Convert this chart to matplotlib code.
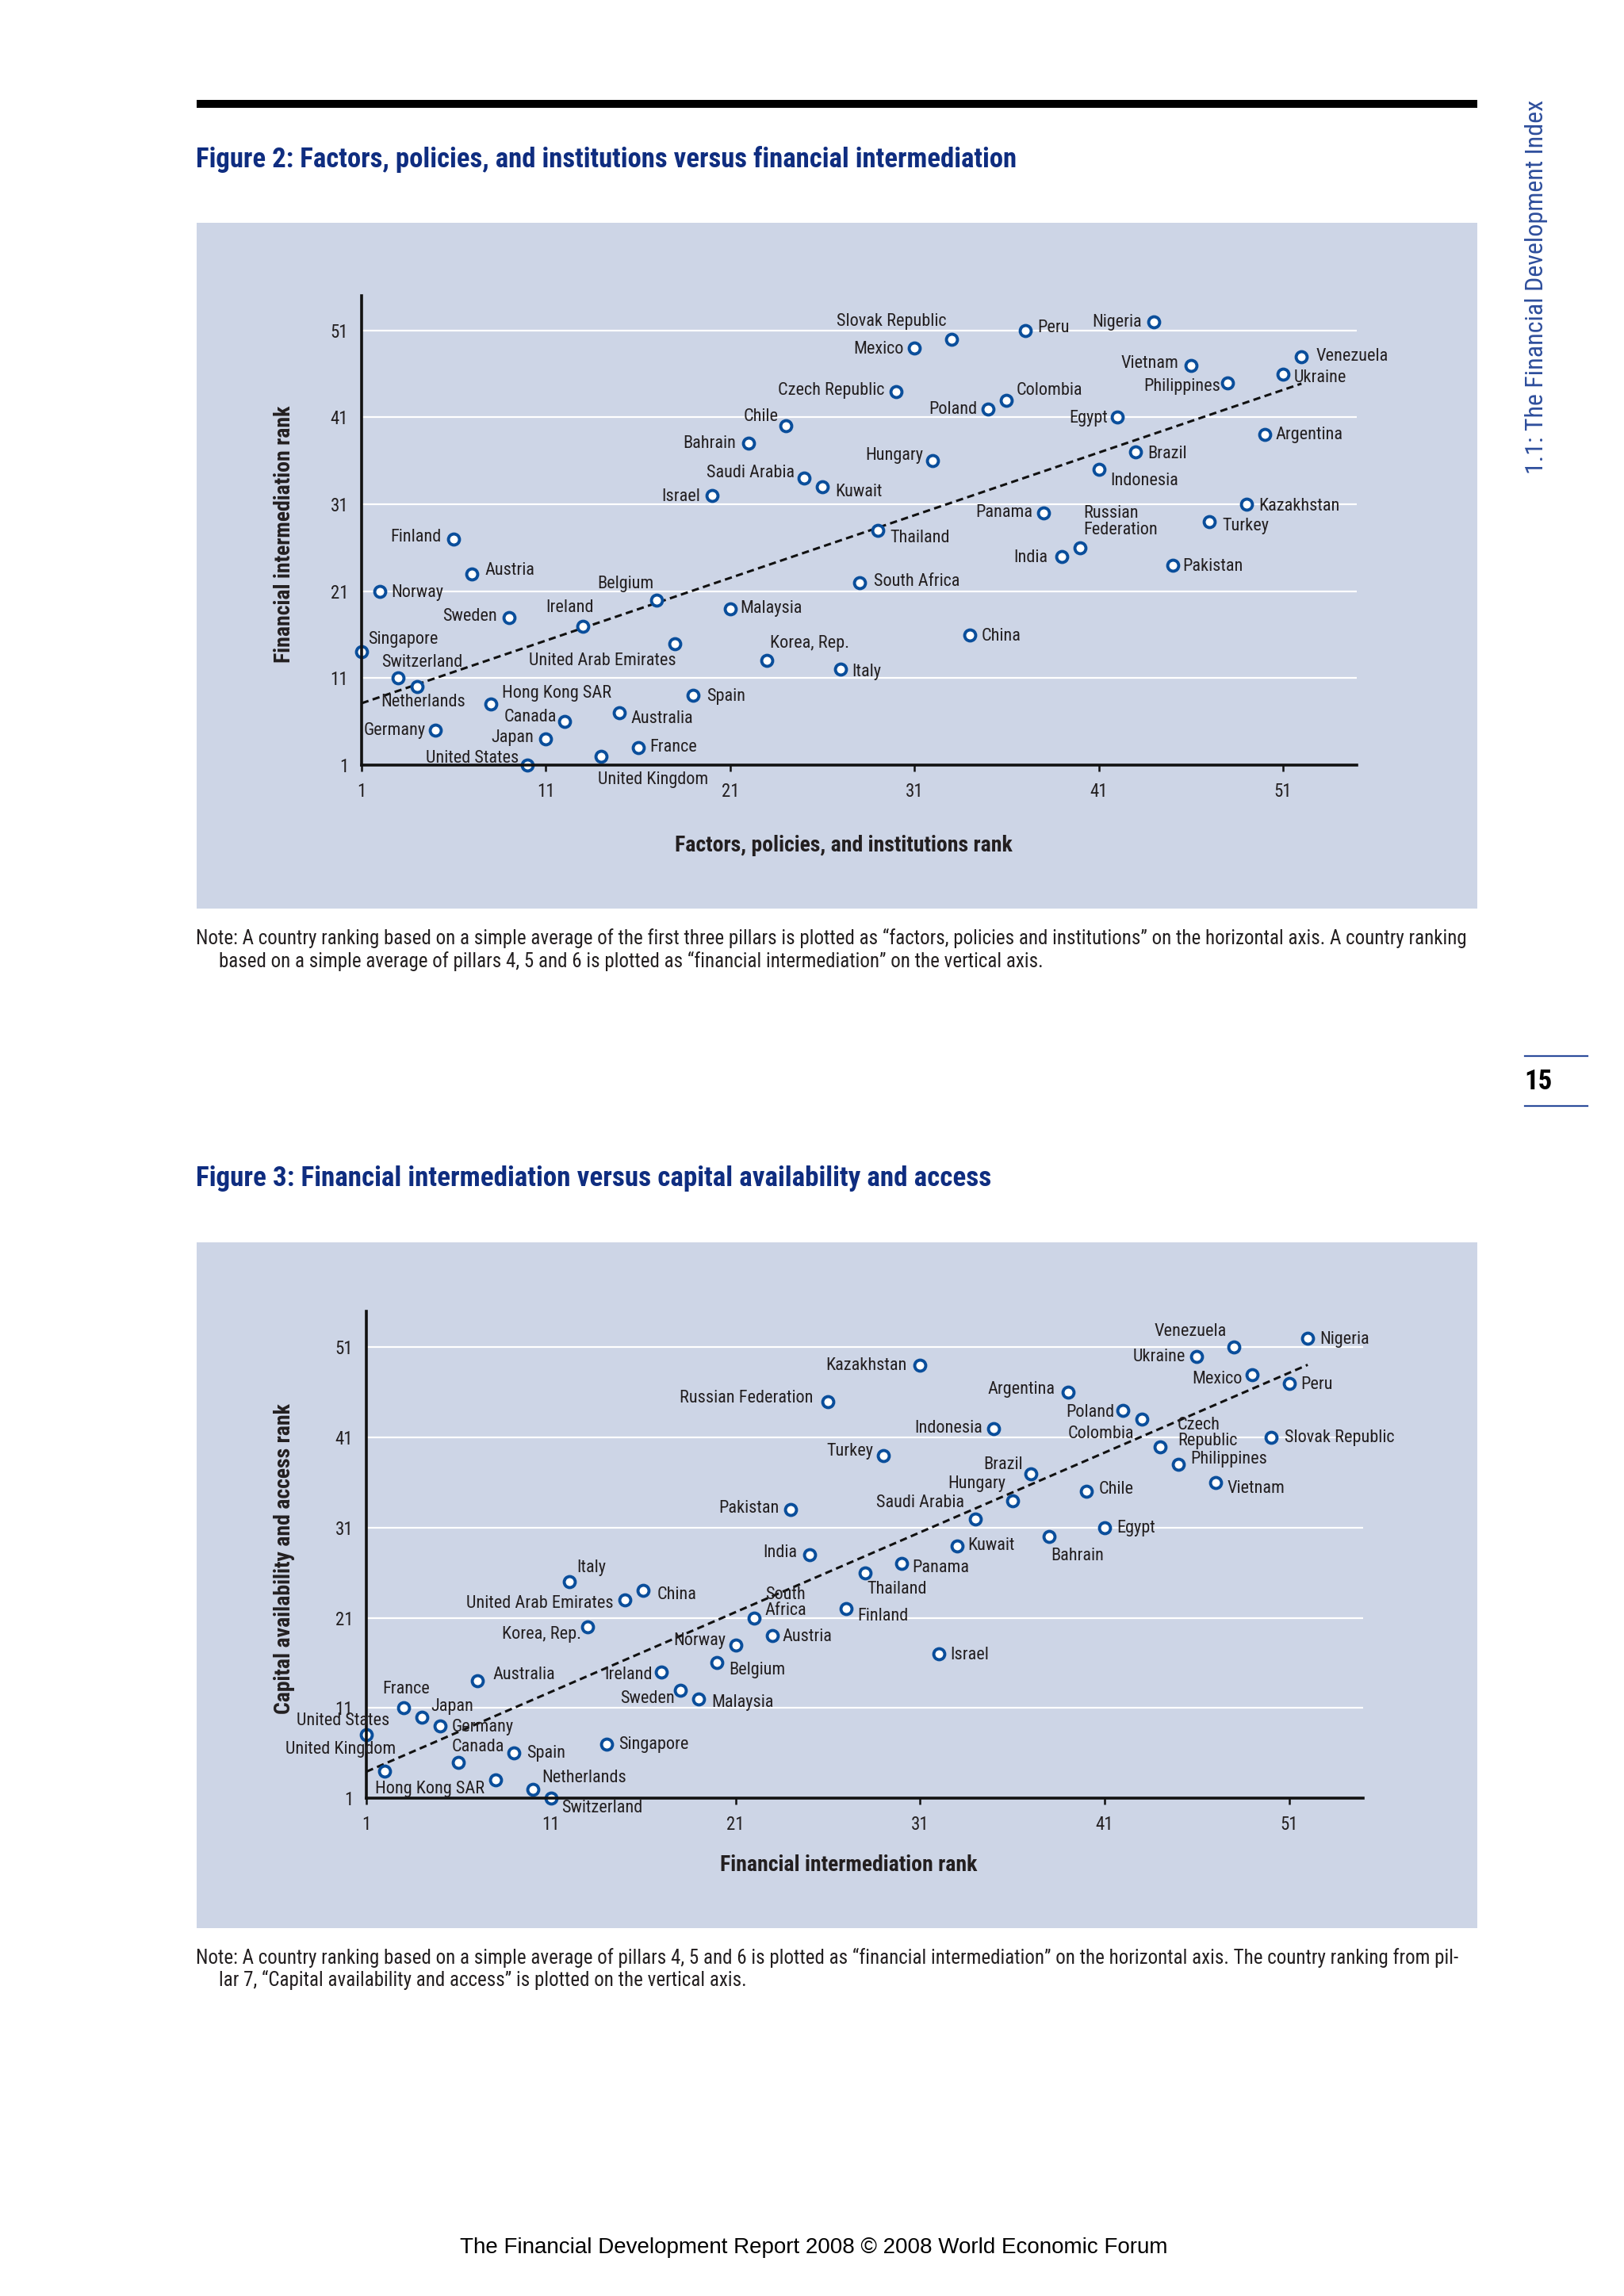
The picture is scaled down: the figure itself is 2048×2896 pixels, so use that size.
import numpy as np
import matplotlib
matplotlib.use("Agg")
import matplotlib.pyplot as plt
from matplotlib.patches import Rectangle
from matplotlib.lines import Line2D
from matplotlib import font_manager as fm

# ---------------- data ----------------
countries = ["Singapore", "Norway", "Switzerland", "Netherlands", "Germany", "Finland",
             "Austria", "Hong Kong SAR", "Sweden", "United States", "Japan", "Canada",
             "Ireland", "United Kingdom", "Australia", "France", "Belgium",
             "United Arab Emirates", "Spain", "Israel", "Malaysia", "Bahrain",
             "Korea, Rep.", "Chile", "Saudi Arabia", "Kuwait", "Italy", "South Africa",
             "Thailand", "Czech Republic", "Mexico", "Hungary", "Slovak Republic",
             "China", "Poland", "Colombia", "Peru", "Panama", "India",
             "Russian Federation", "Indonesia", "Egypt", "Brazil", "Nigeria",
             "Pakistan", "Vietnam", "Turkey", "Philippines", "Kazakhstan",
             "Argentina", "Ukraine", "Venezuela"]

factors_rank = [1, 2, 3, 4, 5, 6, 7, 8, 9, 10, 11, 12, 13, 14, 15, 16, 17, 18, 19, 20,
                21, 22, 23, 24, 25, 26, 27, 28, 29, 30, 31, 32, 33, 34, 35, 36, 37, 38,
                39, 40, 41, 42, 43, 44, 45, 46, 47, 48, 49, 50, 51, 52]

fin_int_rank = [14, 21, 11, 10, 5, 27, 23, 8, 18, 1, 4, 6, 17, 2, 7, 3, 20, 15, 9, 32,
                19, 38, 13, 40, 34, 33, 12, 22, 28, 44, 49, 36, 50, 16, 42, 43, 51, 30,
                25, 26, 35, 41, 37, 52, 24, 47, 29, 45, 31, 39, 46, 48]

capital_rank = [7, 18, 1, 2, 9, 22, 19, 3, 13, 8, 10, 5, 15, 4, 14, 11, 16, 23, 6, 17,
                12, 30, 20, 35, 32, 29, 25, 21, 26, 40, 48, 34, 41, 24, 44, 43, 47, 27,
                28, 45, 42, 31, 37, 52, 33, 36, 39, 38, 49, 46, 50, 51]

tick_values = [1, 11, 21, 31, 41, 51]

# ---------------- font choice ----------------
_names = {f.name for f in fm.fontManager.ttflist}
COND = 'DejaVu Sans'
for cand in ['Roboto Condensed', 'Archivo Narrow', 'PT Sans Narrow', 'Pragati Narrow',
             'Liberation Sans Narrow', 'Arial Narrow']:
    if cand in _names:
        COND = cand
        break
plt.rcParams['font.family'] = [COND, 'DejaVu Sans']

# ---------------- label placement (style) ----------------
disp2 = {"Russian Federation": "Russian\nFederation"}
lab2 = {
    "Singapore": ('left', 8, 16), "Switzerland": ('left', -21, 20),
    "Netherlands": ('left', -45, -19), "Norway": ('left', 14, -2),
    "Finland": ('right', -16, 2), "Austria": ('left', 16, 4),
    "Germany": ('right', -12, 0), "Sweden": ('right', -15, 1),
    "Hong Kong SAR": ('left', 14, 14), "United States": ('right', -11, 8),
    "Japan": ('right', -15, 2), "Canada": ('right', -10, 6),
    "Ireland": ('center', -16, 23), "United Kingdom": ('left', -4, -29),
    "Australia": ('left', 14, -7), "France": ('left', 15, 1),
    "Belgium": ('right', -3, 20), "United Arab Emirates": ('right', 2, -22),
    "Spain": ('left', 17, -1), "Israel": ('right', -14, -1),
    "Malaysia": ('left', 12, 0), "Bahrain": ('right', -16, 0),
    "Korea, Rep.": ('left', 4, 22), "Chile": ('right', -9, 12),
    "Saudi Arabia": ('right', -12, 7), "Kuwait": ('left', 16, -6),
    "Italy": ('left', 14, -3), "South Africa": ('left', 19, 1),
    "Thailand": ('left', 16, -10), "Czech Republic": ('right', -15, 1),
    "Mexico": ('right', -14, -2), "Hungary": ('right', -12, 7),
    "Slovak Republic": ('right', -6, 22), "China": ('left', 15, -2),
    "Poland": ('right', -14, -1), "Colombia": ('left', 12, 12),
    "Peru": ('left', 16, 3), "Panama": ('right', -14, 1),
    "India": ('right', -18, -2), "Russian Federation": ('left', 4, 33),
    "Indonesia": ('left', 15, -14), "Egypt": ('right', -12, -1),
    "Brazil": ('left', 15, -2), "Nigeria": ('right', -15, -1),
    "Pakistan": ('left', 13, -2), "Vietnam": ('right', -15, 2),
    "Turkey": ('left', 16, -5), "Philippines": ('right', -9, -5),
    "Kazakhstan": ('left', 16, -2), "Argentina": ('left', 14, 0),
    "Ukraine": ('left', 14, -5), "Venezuela": ('left', 18, 0),
}
disp3 = {"South Africa": "South\nAfrica", "Czech Republic": "Czech\nRepublic"}
lab3 = {
    "United States": ('right', 29, 18), "United Kingdom": ('right', 14, 27),
    "France": ('center', 4, 24), "Japan": ('left', 12, 13),
    "Germany": ('left', 15, -1), "Canada": ('left', -9, 19),
    "Australia": ('left', 20, 8), "Hong Kong SAR": ('right', -14, -11),
    "Spain": ('left', 16, 0), "Netherlands": ('left', 12, 14),
    "Switzerland": ('left', 13, -13), "Italy": ('left', 9, 18),
    "Korea, Rep.": ('right', -8, -10), "Singapore": ('left', 16, -1),
    "United Arab Emirates": ('right', -14, -5), "China": ('left', 17, -5),
    "Ireland": ('right', -12, -4), "Sweden": ('right', -7, -11),
    "Malaysia": ('left', 16, -5), "Belgium": ('left', 15, -9),
    "Norway": ('right', -12, 5), "South Africa": ('left', 14, 19),
    "Austria": ('left', 12, -1), "Pakistan": ('right', -15, 2),
    "India": ('right', -15, 2), "Russian Federation": ('right', -18, 4),
    "Finland": ('left', 14, -9), "Thailand": ('left', 3, -21),
    "Turkey": ('right', -12, 5), "Panama": ('left', 13, -5),
    "Kazakhstan": ('right', -17, 0), "Israel": ('left', 15, -1),
    "Kuwait": ('left', 13, 0), "Saudi Arabia": ('right', -14, 20),
    "Indonesia": ('right', -14, 0), "Hungary": ('right', -8, 21),
    "Brazil": ('right', -10, 11), "Bahrain": ('left', 2, -24),
    "Argentina": ('right', -16, 4), "Chile": ('left', 16, 3),
    "Egypt": ('left', 15, -1), "Poland": ('right', -11, -2),
    "Colombia": ('right', -10, -18), "Czech Republic": ('left', 22, 17),
    "Philippines": ('left', 15, 7), "Ukraine": ('right', -14, -1),
    "Vietnam": ('left', 15, -7), "Venezuela": ('right', -9, 20),
    "Mexico": ('right', -13, -6), "Slovak Republic": ('left', 17, 0),
    "Peru": ('left', 14, -2), "Nigeria": ('left', 15, -1),
}

# ---------------- styles ----------------
W, H = 2048, 2896
PANEL = '#CDD5E6'
NAVY = '#0F2D80'
SIDE_BLUE = '#2E4E9C'
MARK = '#0A4E9B'
TXT = '#231F20'

fig = plt.figure(figsize=(W / 100, H / 100), dpi=100)
fig.patch.set_facecolor('white')


def fx(x):
    return x / W


def fy(y):
    return 1 - y / H


def rect(x0, y0, x1, y1, color):
    fig.patches.append(Rectangle((fx(x0), fy(y1)), fx(x1) - fx(x0), fy(y0) - fy(y1),
                                 transform=fig.transFigure, facecolor=color,
                                 edgecolor='none', zorder=-5))


rect(248, 126, 1863, 136, 'black')
rect(248, 281, 1863, 1146, PANEL)
rect(248, 1567, 1863, 2432, PANEL)

fig.text(fx(247), fy(201), "Figure 2: Factors, policies, and institutions versus financial intermediation",
         fontsize=25, fontweight='bold', color=NAVY, ha='left', va='center')
fig.text(fx(247), fy(1487), "Figure 3: Financial intermediation versus capital availability and access",
         fontsize=25.3, fontweight='bold', color=NAVY, ha='left', va='center')

fig.text(fx(1937), fy(126), "1.1: The Financial Development Index", rotation=90,
         fontsize=23, color=SIDE_BLUE, ha='center', va='top')
fig.add_artist(Line2D([fx(1923), fx(2002)], [fy(1332), fy(1332)], color=SIDE_BLUE, lw=1.6,
                      transform=fig.transFigure))
fig.add_artist(Line2D([fx(1923), fx(2002)], [fy(1395), fy(1395)], color=SIDE_BLUE, lw=1.6,
                      transform=fig.transFigure))
fig.text(fx(1940), fy(1364), "15", fontsize=25, fontweight='bold', color='black',
         ha='center', va='center')

NOTE_FS = 18
fig.text(fx(247), fy(1183), "Note: A country ranking based on a simple average of the first three pillars is plotted as \u201cfactors, policies and institutions\u201d on the horizontal axis. A country ranking",
         fontsize=NOTE_FS, color=TXT, ha='left', va='center')
fig.text(fx(276), fy(1212), "based on a simple average of pillars 4, 5 and 6 is plotted as \u201cfinancial intermediation\u201d on the vertical axis.",
         fontsize=NOTE_FS, color=TXT, ha='left', va='center')
fig.text(fx(247), fy(2469), "Note: A country ranking based on a simple average of pillars 4, 5 and 6 is plotted as \u201cfinancial intermediation\u201d on the horizontal axis. The country ranking from pil-",
         fontsize=NOTE_FS, color=TXT, ha='left', va='center')
fig.text(fx(276), fy(2497), "lar 7, \u201cCapital availability and access\u201d is plotted on the vertical axis.",
         fontsize=NOTE_FS, color=TXT, ha='left', va='center')

fig.text(fx(1026), fy(2835), "The Financial Development Report 2008 \u00a9 2008 World Economic Forum",
         fontsize=20, color='black', ha='center', va='center',
         family=['Liberation Sans', 'DejaVu Sans'])


def scatter_panel(box, xs, ys, names, labels, disp, xlabel, ylabel, xlab_y, ylab_x):
    left, right, top, bottom = box
    ax = fig.add_axes([fx(left), fy(bottom), fx(right) - fx(left), fy(top) - fy(bottom)])
    ax.set_facecolor('none')
    ax.set_xlim(1, 55)
    ax.set_ylim(1, 55)
    for s in ['top', 'right']:
        ax.spines[s].set_visible(False)
    for s in ['left', 'bottom']:
        ax.spines[s].set_linewidth(2.6)
        ax.spines[s].set_color('#111111')
        ax.spines[s].set_zorder(5)
    ax.set_xticks(tick_values)
    ax.set_yticks(tick_values)
    ax.tick_params(axis='x', direction='out', length=6, width=1.8, color='#111111',
                   labelsize=16.5, pad=10, labelcolor=TXT)
    ax.tick_params(axis='y', length=0, labelsize=16.5, pad=12, labelcolor=TXT)
    for v in tick_values[1:]:
        ax.axhline(v, color='white', lw=1.6, zorder=1)
    xs = np.array(xs, float)
    ys = np.array(ys, float)
    slope, icpt = np.polyfit(xs, ys, 1)
    xl = np.array([xs.min(), xs.max()])
    ax.plot(xl, icpt + slope * xl, color='#111111', lw=2.2, dashes=(3.0, 1.8), zorder=3)
    ax.plot(xs, ys, linestyle='none', marker='o', ms=10, mew=2.8, mec=MARK, mfc='white',
            zorder=4, clip_on=False)
    for n, x, y in zip(names, xs, ys):
        ha, dx, dy = labels[n]
        ax.annotate(disp.get(n, n), (x, y), xytext=(dx, dy), textcoords='offset pixels',
                    ha=ha, va='center', fontsize=16, color=TXT, linespacing=0.95,
                    annotation_clip=False, zorder=6)
    fig.text(fx(ylab_x), fy((top + bottom) / 2 + 5), ylabel, rotation=90, fontsize=20,
             fontweight='bold', color=TXT, ha='center', va='center')
    fig.text(fx((left + right) / 2 - 20), fy(xlab_y), xlabel, fontsize=20,
             fontweight='bold', color=TXT, ha='center', va='center')
    return ax


scatter_panel((456, 1711, 373, 965), factors_rank, fin_int_rank, countries, lab2, disp2,
              "Factors, policies, and institutions rank", "Financial intermediation rank",
              1066, 359)
scatter_panel((462, 1719, 1654, 2268), fin_int_rank, capital_rank, countries, lab3, disp3,
              "Financial intermediation rank", "Capital availability and access rank",
              2353, 359)

fig.savefig("out.png", dpi=100, facecolor='white')
